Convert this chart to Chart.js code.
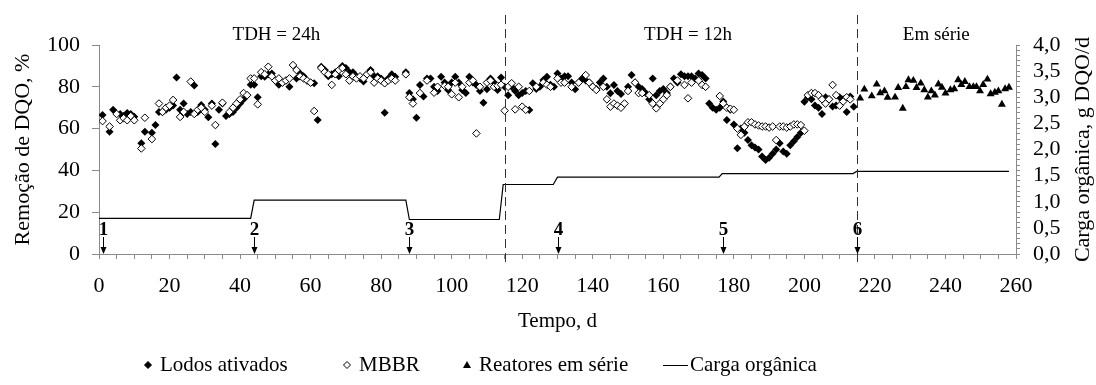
<!DOCTYPE html>
<html><head><meta charset="utf-8">
<script src="https://cdn.jsdelivr.net/npm/chart.js@4.4.1/dist/chart.umd.min.js"></script>
<style>html,body{margin:0;padding:0;background:#fff}#wrap{width:1096px;height:385px}</style>
</head><body><div id="wrap"><canvas id="c" width="1096" height="385"></canvas></div>
<script>
const lodosDays = [1,3,4,6,7,8,9,10,12,13, 15,16,17,18,19,20,21,22,23,24, 25,26,27,28,29,30,31,32,33,34, 35,36,37,38,39,40,41,42,43,44,
 45,46,47,48,49,50,51,52,53,54, 56,57,58,59,60,61,62,63,64,65, 66,67,68,69,70,71,72,73,74,75, 76,77,78,79,80,81,82,83,84,87,
 88,89,90,91,92,93,94,95,96,97, 98,99,100,101,102,103,104,105,106,107, 108,109,110,111,112,113,114,115,116,117, 118,119,120,121,122,123,124,125,126,127,
 128,129,130,131,132,133,134,135,136,137, 138,139,140,141,142,143,144,145,146,147, 148,150,151,152,153,154,155,156,157,158, 159,160,161,162,163,164,165,166,167,168,
 169,170,171,172,173,174,175,176,177,178, 179,180,181,182,183,184,185,186,187,188, 189,190,191,192,193,194,195,196,197,198, 199,200,201,202,203,204,205,206,207,208,
 209,210,211,212,213,214];
const lodosVals = [66.5,58.5,69,67,66,67.5,67,65.7,53,58.5, 58,61.7,68,68,69,70,71,84.5,69,72, 67,68,80.6,68,71.3,69,65.4,72,52.6,69, 72,66,67,68,70,72,74,76,81,81,
 75,85,84.8,86,86.4,83,81,82,83,80, 84,86.4,85,83,82,81.7,64.1,89.6,88,85, 86,87,85,90,89,87,87,85,84,82.5, 86,88,85,85,84,67.6,84,86,84.8,87,
 77,74,65.2,80.9,75.3,84,84,80,78,84.8, 82,78.5,82,84.8,82,78.5,77,84.8,82,80.9, 78,72.4,78.8,84,82,78.5,84.4,80,76,80, 78,76,77,78,68.9,81.7,79,80,83.3,84.8,
 81,80,86.4,84,85,85,82,78.8,82,84, 83,82,80,79,82,84,80,76.9,80.9,78, 76.6,80,85.6,82,80,79,77,74,84,76, 78,79,77,80,84,82,86,85,85,85,
 84,86.4,85.6,84,72,70,69,70,73,64.1, 69,62,50.6,60,58,54.5,52,51,50,46.6, 45,46,48,50,53,49,48,52,54,56, 58,72.9,75,74,71,70,67,75,74,70.6,
 71,75,74,68,75.3,70.5];
const mbbrDays = [1,3,5,6,7,8,9,10,12,13, 15,17,18,19,20,21,23,24,26,27, 28,29,30,32,33,35,37,38,39,40, 41,42,43,44,45,46,47,48,49,50,
 51,52,53,54,55,56,57,58,59,60, 61,63,64,65,66,67,68,69,70,71, 72,73,74,75,76,77,78,79,80,81, 82,83,84,87,88,89,91,93,95,96,
 98,99,100,101,102,103,105,106,107,108, 110,111,112,113,114,115,116,117,118,119, 120,121,122,124,126,127,128,130,131,132, 134,136,138,139,140,141,143,144,145,146,
 147,148,149,150,152,153,154,156,157,158, 159,160,161,162,164,166,167,168,170,171, 172,176,177,178,179,180,181,182,183,184, 185,186,187,188,189,190,191,192,193,194,
 195,196,197,198,199,200,201,202,203,204, 205,206,207,208,209,210,211,212,213];
const mbbrVals = [63.6,61,67,64,65,64,66,64,50.5,65.2, 55,72,68,70,71,73.7,65.6,68,82.5,67, 69,70,68,71,61.7,72.4,68,70,72,74, 77,76,84,84,71.6,87,86,89.6,85,83,
 84,82,83,84,90.4,88,85,84,83,82, 68.4,89,87,86,80.9,86,88,89,86,83, 85,84,85,84,86,87,82,84,83,81.7, 83,84,83,86,75,72,77,83,77.2,80,
 80.5,80,76.4,82,75,80,82,83,57.7,80, 82,83,80,80.5,81,68.6,80,81.7,69.2,80, 70.5,69,78,80,82,81,80,84,82,82, 80,82,85.6,82,80,78.5,80,74,70.5,72,
 71,70,72,78,82,77,77,76,72,69.7, 72,74,76,80,83,80.9,74.5,82,83,80.9, 80,75.6,72,70,69.5,69,60,57,60.9,63, 63,62,61.5,61,61,60.5,61,54.5,61,61,
 60.5,61,62,62,61.7,59,76,77,77,76, 74,72,74,80.9,76,71,73,75,74];
const serieDays = [215.8,217,219.1,220.5,221.5,222.7,223.6,225.7,226.6,227.9, 228.8,229.5,230.9,231.8,233,234,235,236,237,238,
 239,240,241.4,242.5,243.6,244.5,245.5,246.8,247.9,248.8, 249.8,250.7,251.9,252.8,254,255,256,256.9,258];
const serieVals = [74.5,78.8,75.6,81.2,77,78,74.9,75,79.6,69.7, 80,83.3,83,79.6,81.7,78.5,75,78,76,81.3,
 79.7,76.9,78.5,79,83.3,81,82.5,80,80,80, 78,81,83.6,76.6,77.3,78,71.6,79,79.7];
const cargaDays = [0,43,44,87,88,113.5,114.6,128.8,130,175.8,176.7,213.8,214.8,258];
const cargaVals = [0.68,0.68,1.03,1.03,0.66,0.66,1.33,1.33,1.47,1.47,1.54,1.54,1.58,1.58];
const phaseDays = [1,44,88,130,177,215];
const phaseLabels = ['1','2','3','4','5','6'];
const dividerDays = [115,215];
const periodDays = [50.3,167,237.4];
const periodLabels = ['TDH = 24h','TDH = 12h','Em série'];
const seriesNames = ['Lodos ativados','MBBR','Reatores em série','Carga orgânica'];

const FONT = "'Liberation Serif', 'Times New Roman', 'DejaVu Serif', serif";
const AX = '#8a8a8a';
const pts = (d, v) => d.map((x, i) => ({x: x, y: v[i]}));

const extras = {
  id: 'extras',
  afterDatasetsDraw(chart) {
    const ctx = chart.ctx, xs = chart.scales.x, ys = chart.scales.y;
    ctx.save();
    ctx.strokeStyle = '#333'; ctx.lineWidth = 1; ctx.setLineDash([9, 5]);
    dividerDays.forEach(d => {
      const px = Math.round(xs.getPixelForValue(d)) + 0.5;
      ctx.beginPath(); ctx.moveTo(px, 15); ctx.lineTo(px, 264); ctx.stroke();
    });
    ctx.setLineDash([]);
    ctx.fillStyle = '#000'; ctx.font = '19px ' + FONT; ctx.textAlign = 'center'; ctx.textBaseline = 'alphabetic';
    periodDays.forEach((d, i) => ctx.fillText(periodLabels[i], xs.getPixelForValue(d), 40));
    const yb = ys.getPixelForValue(0);
    ctx.font = 'bold 19px ' + FONT;
    phaseDays.forEach((d, i) => {
      const px = Math.round(xs.getPixelForValue(d)) + 0.5;
      ctx.fillText(phaseLabels[i], px, 235);
      ctx.strokeStyle = '#000'; ctx.lineWidth = 1;
      ctx.beginPath(); ctx.moveTo(px, 237); ctx.lineTo(px, yb - 4); ctx.stroke();
      ctx.beginPath(); ctx.moveTo(px - 3, yb - 7); ctx.lineTo(px + 3, yb - 7); ctx.lineTo(px, yb); ctx.closePath(); ctx.fill();
    });
    const ca = chart.chartArea;
    ctx.save();
    ctx.translate(1083, (ca.top + ca.bottom) / 2);
    ctx.rotate(-Math.PI / 2);
    ctx.font = '22px ' + FONT; ctx.textAlign = 'center'; ctx.textBaseline = 'middle';
    ctx.fillText('Carga orgânica, g DQO/d', 0, 0);
    ctx.restore();
    const ly = 365, lx = [148, 347, 467, 663];
    ctx.font = '21px ' + FONT; ctx.textAlign = 'left'; ctx.textBaseline = 'middle';
    chart.data.datasets.forEach((ds, i) => {
      const x = lx[i];
      ctx.lineWidth = 1; ctx.strokeStyle = '#000';
      if (i === 0 || i === 1) {
        ctx.beginPath(); ctx.moveTo(x, ly - 3.5); ctx.lineTo(x + 3.5, ly); ctx.lineTo(x, ly + 3.5); ctx.lineTo(x - 3.5, ly); ctx.closePath();
        ctx.fillStyle = i === 0 ? '#000' : '#fff'; ctx.fill(); ctx.stroke();
        ctx.fillStyle = '#000';
        ctx.fillText(ds.label, x + 12, ly);
      } else if (i === 2) {
        ctx.beginPath(); ctx.moveTo(x, ly - 4); ctx.lineTo(x + 4, ly + 3); ctx.lineTo(x - 4, ly + 3); ctx.closePath();
        ctx.fillStyle = '#000'; ctx.fill();
        ctx.fillText(ds.label, x + 12, ly);
      } else {
        ctx.beginPath(); ctx.moveTo(x, ly + 0.5); ctx.lineTo(x + 25, ly + 0.5); ctx.stroke();
        ctx.fillStyle = '#000';
        ctx.fillText(ds.label, x + 27, ly);
      }
    });
    ctx.restore();
  }
};

new Chart(document.getElementById('c'), {
  type: 'scatter',
  data: {
    datasets: [
      {label: seriesNames[0], data: pts(lodosDays, lodosVals), pointStyle: 'rectRot', pointRadius: 4, backgroundColor: '#000', borderColor: '#000', borderWidth: 0, yAxisID: 'y', order: 1},
      {label: seriesNames[1], data: pts(mbbrDays, mbbrVals), pointStyle: 'rectRot', pointRadius: 3.8, backgroundColor: '#fff', borderColor: '#000', borderWidth: 1, yAxisID: 'y', order: 0},
      {label: seriesNames[2], data: pts(serieDays, serieVals), pointStyle: 'triangle', pointRadius: 4.6, backgroundColor: '#000', borderColor: '#000', borderWidth: 0, yAxisID: 'y', order: 2},
      {label: seriesNames[3], data: pts(cargaDays, cargaVals), showLine: true, pointRadius: 0, borderColor: '#000', borderWidth: 1.2, backgroundColor: '#000', yAxisID: 'y2', order: 3}
    ]
  },
  options: {
    responsive: false, animation: false, devicePixelRatio: 1,
    layout: {padding: {top: 45, bottom: 51, left: 0, right: 0}},
    plugins: {legend: {display: false}, tooltip: {enabled: false}},
    scales: {
      x: {
        type: 'linear', position: 'bottom', min: 0, max: 260,
        ticks: {stepSize: 5, autoSkip: false, maxRotation: 0, color: '#000', font: {family: FONT, size: 22}, padding: 14,
          callback: v => (v % 20 === 0 ? String(v) : '')},
        grid: {drawOnChartArea: false, drawTicks: true, tickLength: 5, color: AX},
        border: {color: AX, width: 1},
        title: {display: true, text: 'Tempo, d', color: '#000', font: {family: FONT, size: 21}, padding: {top: 0, bottom: 0}},
        afterFit: s => { s.height = 80; }
      },
      y: {
        position: 'left', min: 0, max: 100,
        ticks: {stepSize: 20, color: '#000', font: {family: FONT, size: 22}, padding: 12},
        grid: {drawOnChartArea: false, drawTicks: true, tickLength: 7, color: AX},
        border: {color: AX, width: 1},
        title: {display: true, text: 'Remoção de DQO, %', color: '#000', font: {family: FONT, size: 22}, padding: {top: 10, bottom: 0}},
        afterFit: s => { s.width = 99; }
      },
      y2: {
        position: 'right', min: 0, max: 4,
        ticks: {stepSize: 0.1, autoSkip: false, color: '#000', font: {family: FONT, size: 22}, padding: 13,
          callback: v => { const t = Math.round(v * 10); return t % 5 === 0 ? (t / 10).toFixed(1).replace('.', ',') : ''; }},
        grid: {drawOnChartArea: false, drawTicks: true, tickLength: 4, color: AX},
        border: {color: AX, width: 1},
        title: {display: false},
        afterFit: s => { s.width = 80; }
      }
    }
  },
  plugins: [extras]
});
</script></body></html>
